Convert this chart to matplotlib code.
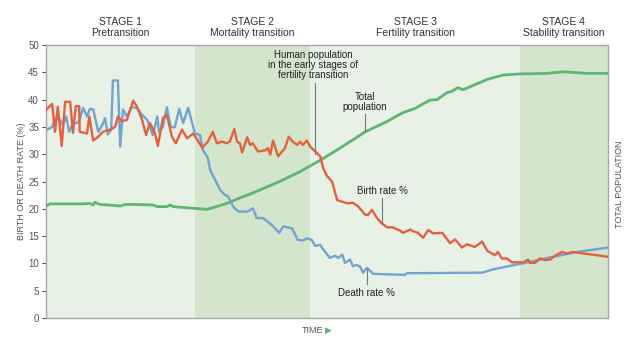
import numpy as np
import matplotlib
matplotlib.use("Agg")
import matplotlib.pyplot as plt

plt.rcParams['font.family'] = ['Liberation Sans', 'DejaVu Sans']

# stage boundaries (time, 0-100)
stage_edges = [0, 26.5, 47.0, 84.3, 100]
stage_names = ['STAGE 1', 'STAGE 2', 'STAGE 3', 'STAGE 4']
stage_subs = ['Pretransition', 'Mortality transition', 'Fertility transition', 'Stability transition']

birth_t = [0, 1.1, 1.6, 2.1, 2.8, 3.4, 4.3, 4.8, 5.3, 5.9, 6.0, 7.3, 7.7, 8.4, 9.3, 10.1,
           11.4, 12.3, 12.8, 13.5, 14.4, 15.5, 16.2, 17.1, 17.8, 18.5, 19.4, 19.9, 20.8,
           21.5, 22.4, 23.1, 24.2, 25.1, 26.2, 27.8, 28.8, 29.7, 30.4, 31.3, 32.2, 32.7,
           33.5, 34.0, 34.5, 34.9, 35.8, 36.3, 36.8, 37.7, 39.0, 39.5, 39.9, 40.4, 41.3,
           42.5, 43.2, 43.9, 44.7, 45.2, 45.7, 46.4, 47.0, 47.9, 48.8, 49.3, 50.0, 50.9,
           51.8, 52.7, 53.6, 54.6, 55.5, 56.8, 57.3, 58.0, 58.9, 59.8, 60.7, 61.7, 63.0,
           63.5, 64.8, 65.3, 66.2, 67.1, 68.0, 68.9, 70.5, 71.9, 72.8, 74.0, 74.9, 76.3,
           77.6, 78.5, 79.9, 80.4, 81.1, 82.0, 82.9, 84.9, 85.8, 86.1, 87.0, 87.9, 88.8,
           89.7, 90.6, 91.8, 92.7, 93.6, 95.0, 98.0, 100]
birth_rate = [38.1, 39.2, 34.1, 38.7, 31.5, 39.6, 39.6, 33.9, 38.8, 38.8, 34.1, 33.8, 36.9,
              32.5, 33.2, 34.1, 34.5, 35.0, 36.9, 36.0, 36.3, 39.8, 38.7, 36.3, 33.5, 35.7,
              33.8, 31.5, 36.6, 37.2, 33.2, 32.0, 34.5, 32.9, 33.8, 31.2, 32.3, 34.1, 32.0,
              32.3, 32.0, 32.3, 34.6, 32.3, 32.0, 30.3, 33.1, 31.7, 32.0, 30.5, 30.7, 31.1,
              29.9, 32.5, 29.6, 31.1, 33.2, 32.3, 31.7, 32.3, 31.7, 32.5, 31.4, 30.5, 29.6,
              27.5, 26.0, 25.0, 21.6, 21.3, 21.0, 21.1, 20.5, 18.9, 18.9, 19.8, 18.3, 17.3,
              16.6, 16.6, 16.0, 15.6, 16.2, 15.9, 15.6, 14.7, 16.1, 15.5, 15.6, 13.7, 14.4,
              12.9, 13.5, 13.0, 14.0, 12.3, 11.5, 12.1, 10.9, 10.9, 10.2, 10.2, 10.7, 10.1,
              10.1, 10.9, 10.6, 10.7, 11.4, 12.1, 11.8, 12.1, 11.9, 11.5, 11.2]

death_t = [0, 1.1, 1.6, 2.5, 3.0, 3.6, 4.1, 4.8, 5.5, 6.0, 6.6, 7.3, 7.8, 8.4, 9.3, 10.0,
           10.5, 11.0, 11.6, 11.9, 12.8, 13.2, 13.7, 14.4, 15.3, 16.2, 17.1, 18.0, 18.5,
           19.0, 19.8, 20.1, 20.8, 21.5, 22.2, 22.9, 23.7, 24.4, 25.3, 26.0, 26.5, 27.4,
           27.9, 28.8, 29.2, 30.1, 31.0, 31.9, 32.4, 33.3, 34.2, 35.9, 36.8, 37.5, 38.6,
           39.5, 40.4, 41.5, 42.2, 43.8, 44.8, 45.7, 46.4, 47.3, 47.9, 48.8, 49.3, 50.5,
           51.4, 52.0, 52.7, 53.2, 54.1, 54.6, 55.3, 55.9, 56.4, 57.1, 58.2, 60.7, 63.9,
           64.2, 77.6, 79.5, 84.3, 90.2, 94.5, 100]
death_rate = [34.4, 35.0, 36.6, 36.3, 35.3, 36.9, 34.1, 35.7, 35.7, 36.3, 38.5, 36.9, 38.3,
              38.2, 34.1, 35.3, 36.6, 33.6, 34.5, 43.5, 43.5, 31.4, 38.2, 36.9, 38.7, 38.4,
              37.2, 36.3, 35.0, 33.5, 36.9, 34.1, 35.0, 38.6, 35.0, 34.9, 38.3, 35.7, 38.5,
              35.7, 33.8, 33.5, 30.8, 29.3, 27.1, 25.3, 23.4, 22.5, 22.3, 20.4, 19.5, 19.5,
              20.1, 18.3, 18.3, 17.6, 16.8, 15.6, 16.8, 16.4, 14.3, 14.2, 14.6, 14.3, 13.2,
              13.4, 12.6, 11.0, 11.4, 11.0, 11.6, 10.1, 10.7, 9.5, 9.7, 9.4, 8.3, 9.2, 8.1,
              8.0, 7.9, 8.2, 8.3, 8.9, 9.9, 11.2, 12.1, 12.9]

pop_t = [0, 0.7, 6.6, 7.8, 8.4, 8.7, 9.6, 12.3, 13.2, 14.1, 15.5, 19.0, 19.8, 21.5, 22.1,
         22.6, 25.1, 27.4, 28.6, 29.7, 32.2, 34.5, 36.8, 39.3, 42.2, 45.2, 48.8, 52.3, 56.8,
         60.7, 63.5, 65.7, 68.3, 69.6, 71.4, 72.2, 73.3, 74.2, 76.0, 78.5, 81.3, 84.3, 89.1,
         92.0, 96.3, 100]
population = [20.5, 20.9, 20.9, 21.0, 20.7, 21.2, 20.8, 20.6, 20.5, 20.8, 20.8, 20.7, 20.4,
              20.4, 20.7, 20.4, 20.2, 20.0, 19.9, 20.2, 21.0, 22.0, 22.9, 24.0, 25.3, 26.8,
              28.9, 31.1, 34.1, 36.0, 37.6, 38.4, 39.9, 40.0, 41.3, 41.5, 42.2, 41.8, 42.6,
              43.7, 44.5, 44.7, 44.8, 45.1, 44.8, 44.8]

light_bg = '#e7f1e6'
dark_bg = '#d3e5cb'
red = '#e5603f'
blue = '#72a3d3'
green = '#5fb673'
gray = '#555555'

fig = plt.figure(figsize=(6.4, 3.4), dpi=100)
ax = fig.add_axes([46 / 640, 22 / 340, 562 / 640, 273 / 340])

for i in range(4):
    ax.axvspan(stage_edges[i], stage_edges[i + 1], color=light_bg if i % 2 == 0 else dark_bg,
               lw=0, zorder=0)
    xc = (stage_edges[i] + stage_edges[i + 1]) / 2
    ax.text(xc, 1.084, stage_names[i], transform=ax.get_xaxis_transform(),
            ha='center', va='center', fontsize=7.5, color='#333333')
    ax.text(xc, 1.044, stage_subs[i], transform=ax.get_xaxis_transform(),
            ha='center', va='center', fontsize=7.5, color='#333333')

ax.plot(pop_t, population, color=green, lw=2.0, zorder=3, solid_joinstyle='round')
ax.plot(death_t, death_rate, color=blue, lw=1.7, zorder=4, solid_joinstyle='round')
ax.plot(birth_t, birth_rate, color=red, lw=1.7, zorder=5, solid_joinstyle='round')

# annotations
ax.text(47.5, 46.3, 'Human population\nin the early stages of\nfertility transition',
        ha='center', va='center', fontsize=7, color='#222222', linespacing=1.0)
ax.plot([47.9, 47.9], [43.0, 30.0], color='#777777', lw=0.8, zorder=6)
ax.text(56.8, 39.6, 'Total\npopulation', ha='center', va='center', fontsize=7,
        color='#222222', linespacing=1.0)
ax.plot([56.8, 56.8], [37.4, 34.2], color='#777777', lw=0.8, zorder=6)
ax.text(59.8, 23.3, 'Birth rate %', ha='center', va='center', fontsize=7, color='#222222')
ax.plot([59.8, 59.8], [22.0, 17.4], color='#777777', lw=0.8, zorder=6)
ax.text(57.1, 4.6, 'Death rate %', ha='center', va='center', fontsize=7, color='#222222')
ax.plot([57.1, 57.1], [6.2, 9.0], color='#777777', lw=0.8, zorder=6)

ax.set_xlim(0, 100)
ax.set_ylim(0, 50)
ax.set_yticks(np.arange(0, 51, 5))
ax.set_xticks([])
ax.tick_params(axis='y', labelsize=7, colors=gray, length=3, width=0.8, pad=2)
for s in ax.spines.values():
    s.set_color('#a8a8a8')
    s.set_linewidth(1.0)

ax.set_ylabel('BIRTH OR DEATH RATE (%)', fontsize=6.5, color=gray, labelpad=2)
ax.text(1.02, 0.49, 'TOTAL POPULATION', transform=ax.transAxes, rotation=90,
        ha='center', va='center', fontsize=6.5, color=gray)
ax.text(0.494, -0.044, 'TIME', transform=ax.transAxes, ha='right', va='center',
        fontsize=6.5, color=gray)
ax.text(0.497, -0.044, '\u25B6', transform=ax.transAxes, ha='left', va='center',
        fontsize=6.5, color=green, family='DejaVu Sans')

fig.savefig('out.png', dpi=100)
